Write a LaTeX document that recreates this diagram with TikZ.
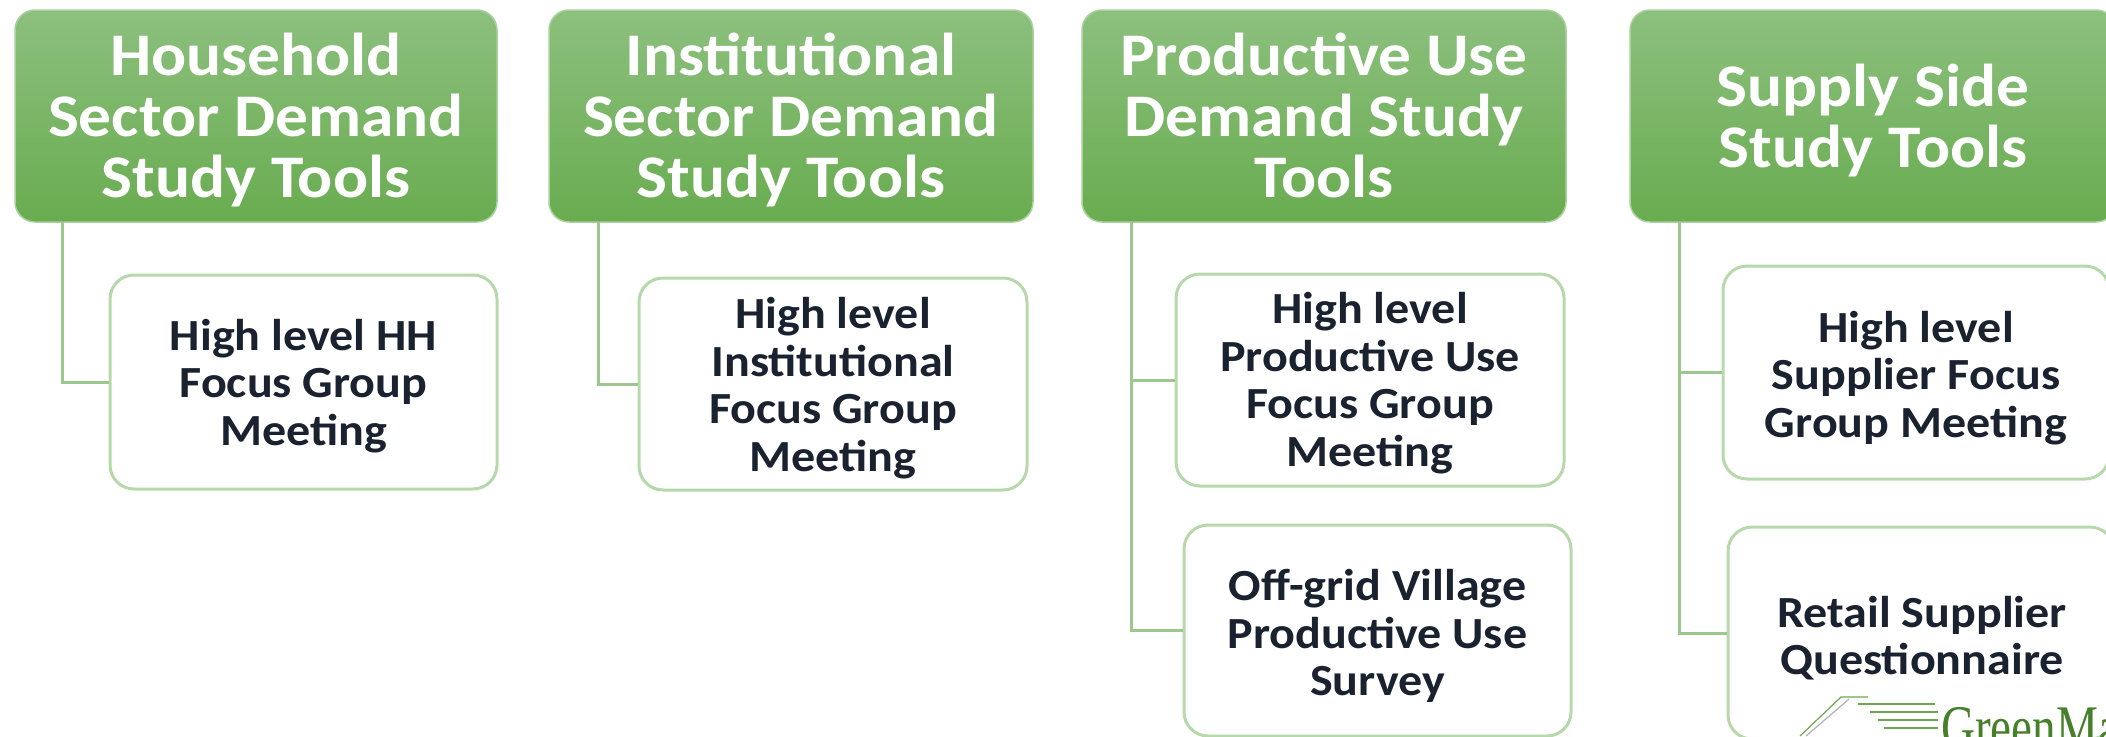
\documentclass[tikz,border=0pt]{standalone}
\usepackage{fontspec}
\setmainfont{Carlito}[FakeStretch=1.08]
\newfontfamily\logofont{Liberation Serif}[FakeStretch=0.76]
\definecolor{hdtop}{HTML}{8CC07E}
\definecolor{hdbot}{HTML}{69AC50}
\definecolor{hdedge}{HTML}{A9D19B}
\definecolor{boxedge}{HTML}{B6D8AB}
\definecolor{linkc}{HTML}{9CC78E}
\definecolor{inkc}{HTML}{1A2230}
\definecolor{logoc}{HTML}{47802A}
\definecolor{logol}{HTML}{6FA64F}
\tikzset{
 x=1pt,y=-1pt,
 headfont/.style={font=\bfseries\fontsize{60.5}{61}\selectfont,align=center,inner sep=0pt,text=white},
 toolfont/.style={font=\bfseries\fontsize{44.5}{47.5}\selectfont,align=center,inner sep=0pt,text=inkc},
 headbox/.style={draw=hdedge,line width=1.5pt,rounded corners=20pt,top color=hdtop,bottom color=hdbot,inner sep=0pt},
 toolbox/.style={draw=boxedge,line width=3pt,rounded corners=24pt,fill=white,inner sep=0pt},
 linkline/.style={draw=linkc,line width=3pt,line cap=butt,line join=miter},
}
\begin{document}
\begin{tikzpicture}
\useasboundingbox (0,0) rectangle (2106,736);
\clip (0,0) rectangle (2106,736);
% connector start points
\coordinate (l1) at (62,222);
\coordinate (l2) at (598,222);
\coordinate (l3) at (1131,222);
\coordinate (l4) at (1679,222);
% headers
\node[headbox,minimum width=482pt,minimum height=212pt] (h1) at (256,116) {};
\node[headbox,minimum width=484pt,minimum height=212pt] (h2) at (791,116) {};
\node[headbox,minimum width=484pt,minimum height=212pt] (h3) at (1324,116) {};
\node[headbox,minimum width=486pt,minimum height=212pt] (h4) at (1873,116) {};
\node[headfont] (h1t) at (256,120) {Household\\Sector Demand\\Study Tools};
\node[headfont] (h2t) at (791,120) {Institutional\\Sector Demand\\Study Tools};
\node[headfont] (h3t) at (1324,115) {Productive Use\\Demand Study\\Tools};
\node[headfont] (h4t) at (1873,121) {Supply Side\\Study Tools};
% tool boxes
\node[toolbox,minimum width=387pt,minimum height=214pt] (c1) at (303.5,382) {};
\node[toolbox,minimum width=388pt,minimum height=212pt] (c2) at (833,384) {};
\node[toolbox,minimum width=388pt,minimum height=212pt] (c3) at (1370,380) {};
\node[toolbox,minimum width=387pt,minimum height=211pt] (c4) at (1377.5,630.5) {};
\node[toolbox,minimum width=386pt,minimum height=213pt] (c5) at (1916,372.5) {};
\node[toolbox,minimum width=386pt,minimum height=212pt] (c6) at (1921,633) {};
\node[toolfont] (c1t) at (303.5,386) {High level HH\\Focus Group\\Meeting};
\node[toolfont] (c2t) at (833,388) {High level\\Institutional\\Focus Group\\Meeting};
\node[toolfont] (c3t) at (1370,383) {High level\\Productive Use\\Focus Group\\Meeting};
\node[toolfont] (c4t) at (1377.5,636) {Off-grid Village\\Productive Use\\Survey};
\node[toolfont] (c5t) at (1916,378) {High level\\Supplier Focus\\Group Meeting};
\node[toolfont] (c6t) at (1922,638) {Retail Supplier\\Questionnaire};
\draw[linkline] (l1) |- (c1.west);
\draw[linkline] (l2) |- (c2.west);
\draw[linkline] (l3) |- (c3.west);
\draw[linkline] (l3) |- (c4.west);
\draw[linkline] (l4) |- (c5.west);
\draw[linkline] (l4) |- (c6.west);
% logo
\node[font=\logofont\fontsize{62}{62}\selectfont,text=logoc,anchor=base west,inner sep=0pt] (logo) at (1941,748) {GreenMa};
\draw[logol,line width=1.2pt] (1800,736) -- (1841,697) -- (1868,697);
\draw[gray!60,line width=1.2pt] (1806,736) -- (1849,699);
\foreach \a/\b/\c in {1858/1935/704,1870/1938/712,1878/1938/720,1884/1938/728}{
  \draw[logol,line width=1.6pt] (\a,\c) -- (\b,\c);
}
\end{tikzpicture}
\end{document}
